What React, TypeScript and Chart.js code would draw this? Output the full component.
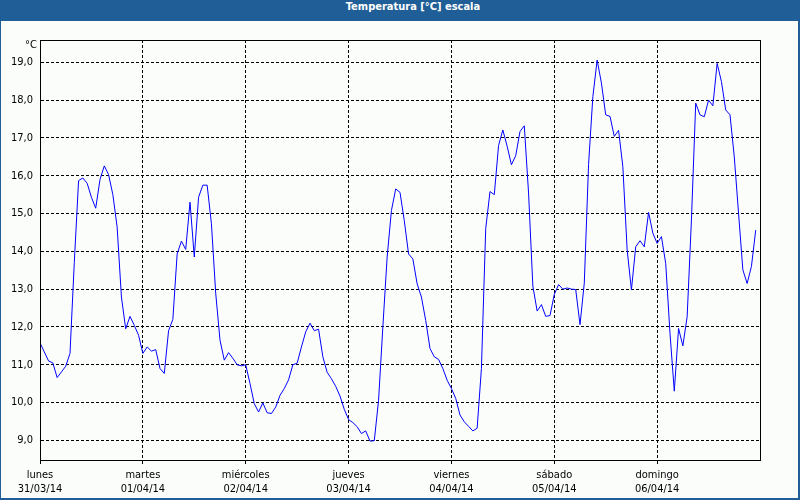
import React, { useEffect, useRef } from "react";
import { Chart, registerables } from "chart.js";

Chart.register(...registerables);

const titleText = "Temperatura [°C] escala";
const unitLabel = "°C";
const dayNames = ["lunes", "martes", "miércoles", "jueves", "viernes", "sábado", "domingo"];
const dayDates = ["31/03/14", "01/04/14", "02/04/14", "03/04/14", "04/04/14", "05/04/14", "06/04/14"];
const yTickValues = [9, 10, 11, 12, 13, 14, 15, 16, 17, 18, 19];

// hourly temperatures (°C), 00:00 .. 23:00 of each day
const lunes = [11.58, 11.34, 11.1, 11.05, 10.66, 10.81, 10.96, 11.3, 13.7, 15.87, 15.94, 15.8, 15.43, 15.14, 15.9, 16.26, 16.03, 15.5, 14.64, 12.79, 11.95, 12.28, 12.04, 11.78];
const martes = [11.3, 11.47, 11.36, 11.4, 10.9, 10.77, 11.9, 12.2, 13.93, 14.27, 14.05, 15.3, 13.85, 15.43, 15.75, 15.75, 14.73, 12.89, 11.65, 11.12, 11.32, 11.17, 11.0, 10.97];
const miercoles = [11.0, 10.5, 9.97, 9.75, 9.99, 9.73, 9.71, 9.88, 10.19, 10.37, 10.6, 11.0, 11.04, 11.47, 11.87, 12.1, 11.9, 11.94, 11.21, 10.8, 10.63, 10.43, 10.17, 9.82];
const jueves = [9.55, 9.47, 9.36, 9.18, 9.25, 8.98, 8.99, 10.06, 12.0, 13.85, 15.08, 15.65, 15.56, 14.81, 13.93, 13.8, 13.14, 12.79, 12.17, 11.43, 11.21, 11.14, 10.9, 10.59];
const viernes = [10.37, 10.11, 9.67, 9.49, 9.37, 9.25, 9.32, 10.9, 14.6, 15.58, 15.5, 16.8, 17.21, 16.78, 16.29, 16.53, 17.17, 17.32, 15.54, 13.08, 12.42, 12.59, 12.28, 12.3];
const sabado = [12.86, 13.12, 13.0, 13.03, 13.0, 12.99, 12.06, 13.16, 16.3, 18.09, 19.06, 18.45, 17.61, 17.57, 17.04, 17.2, 16.24, 14.04, 12.98, 14.12, 14.28, 14.12, 15.03, 14.48];
const domingo = [14.21, 14.39, 13.68, 11.83, 10.3, 11.96, 11.5, 12.27, 14.83, 17.92, 17.61, 17.56, 18.0, 17.85, 18.97, 18.49, 17.74, 17.61, 16.5, 15.0, 13.51, 13.15, 13.6, 14.56];

const week = [lunes, martes, miercoles, jueves, viernes, sabado, domingo];

const FONT = "'DejaVu Sans Condensed', 'Liberation Sans', sans-serif";

const framePlugin = {
  id: "frame",
  afterDraw(chart: any) {
    const { ctx, chartArea: a } = chart;
    ctx.save();
    ctx.strokeStyle = "#000";
    ctx.lineWidth = 1;
    ctx.setLineDash([]);
    ctx.strokeRect(Math.round(a.left) + 0.5, Math.round(a.top) + 0.5, Math.round(a.right - a.left), Math.round(a.bottom - a.top));
    ctx.font = `11px ${FONT}`;
    ctx.fillStyle = "#000";
    ctx.textAlign = "center";
    ctx.textBaseline = "middle";
    ctx.fillText(unitLabel, a.left - 9, a.top + 5.5);
    ctx.restore();
  },
};

export default function App() {
  const canvasRef = useRef<HTMLCanvasElement | null>(null);

  useEffect(() => {
    if (!canvasRef.current) return;
    const points = week.flatMap((day, d) => day.map((v, h) => ({ x: d * 24 + h, y: v })));
    const chart = new Chart(canvasRef.current, {
      type: "line",
      data: {
        datasets: [
          {
            data: points,
            borderColor: "#0000ff",
            borderWidth: 1,
            pointRadius: 0,
            tension: 0,
            fill: false,
          },
        ],
      },
      options: {
        animation: false,
        responsive: true,
        maintainAspectRatio: false,
        layout: { padding: { top: 19, right: 38, left: 0, bottom: 0 } },
        plugins: { legend: { display: false }, tooltip: { enabled: false }, title: { display: false } },
        scales: {
          x: {
            type: "linear",
            min: 0,
            max: 168,
            afterBuildTicks: (scale: any) => {
              scale.ticks = dayNames.map((_, i) => ({ value: i * 24 }));
            },
            afterFit: (scale: any) => {
              scale.height = 38;
            },
            grid: {
              color: "#000",
              lineWidth: 1,
              drawTicks: true,
              tickLength: 4,
              tickColor: "#000",
              tickBorderDash: [],
            },
            border: { display: true, color: "#000", width: 1, dash: [3, 2] },
            ticks: {
              autoSkip: false,
              maxRotation: 0,
              minRotation: 0,
              padding: 4,
              color: "#000",
              font: { family: FONT, size: 11, lineHeight: "14px" },
              callback: (_v: any, i: number) => [dayNames[i], dayDates[i]],
            },
          },
          y: {
            type: "linear",
            min: 8.48,
            max: 19.59,
            afterBuildTicks: (scale: any) => {
              scale.ticks = yTickValues.map((v) => ({ value: v }));
            },
            afterFit: (scale: any) => {
              scale.width = 39;
            },
            grid: {
              color: "#000",
              lineWidth: 1,
              drawTicks: false,
            },
            border: { display: true, color: "#000", width: 1, dash: [3, 2] },
            ticks: {
              padding: 7,
              color: "#000",
              font: { family: FONT, size: 11 },
              callback: (v: any) => Number(v).toFixed(1).replace(".", ","),
            },
          },
        },
      },
      plugins: [framePlugin],
    });
    return () => chart.destroy();
  }, []);

  return (
    <div style={{ position: "fixed", left: 0, top: 0, width: 800, height: 500, background: "#1f5e96" }}>
      <div
        style={{
          position: "absolute",
          left: 0,
          top: 0,
          width: 800,
          height: 21,
          lineHeight: "21px",
          color: "#fff",
          textAlign: "center",
          font: `bold 11px ${FONT}`,
          paddingLeft: 26,
          boxSizing: "border-box",
        }}
      >
        {titleText}
      </div>
      <div style={{ position: "absolute", left: 1, top: 21, width: 797, height: 477, background: "#fbfdfb" }}>
        <canvas ref={canvasRef} />
      </div>
    </div>
  );
}
